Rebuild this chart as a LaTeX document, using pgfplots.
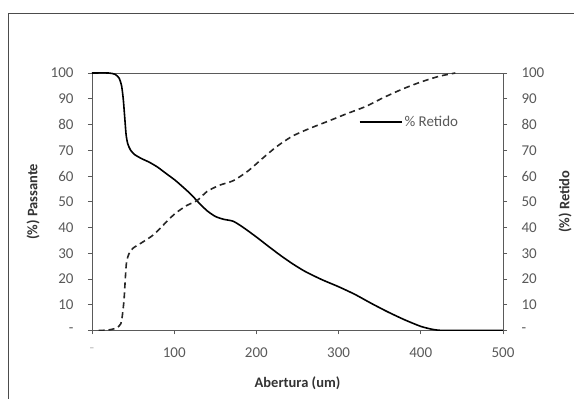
\documentclass[border=0pt]{standalone}
\usepackage{pgfplots}
\pgfplotsset{compat=1.18}
\usepackage{fontspec}
\setmainfont{Carlito}
\definecolor{txt}{HTML}{595959}
\definecolor{axc}{HTML}{5A5A5A}
\begin{document}
\begin{tikzpicture}[x=1pt,y=1pt]
\useasboundingbox (-92,-68.5) rectangle (482,330.5);
\draw[black!70, line width=0.8pt] (-84,-68.5) -- (-84,317.2) -- (482,317.2);
\begin{axis}[at={(0,0)}, anchor=south west, scale only axis,
  width=411pt, height=257.5pt,
  xmin=0, xmax=500, ymin=0, ymax=100,
  xtick={0,100,...,500}, xticklabels={\textcolor{black!25}{-},100,200,300,400,500},
  ytick={0,10,...,100}, yticklabels={-,10,20,30,40,50,60,70,80,90,100},
  xtick pos=bottom, ytick pos=left,
  tick align=outside, major tick length=4pt,
  tick style={axc, line width=0.7pt},
  axis line style={axc, line width=0.8pt},
  ticklabel style={font=\fontsize{15}{17}\selectfont, text=txt},
  yticklabel style={xshift=-11pt},
  xticklabel style={yshift=-10pt},
  /pgf/number format/assume math mode=true,
  label style={font=\fontsize{14.5}{16}\selectfont\bfseries, text=black!80},
  xlabel={Abertura (um)}, ylabel={(\%) Passante},
  xlabel style={at={(axis description cs:0.5,-0.204)}, anchor=center},
  ylabel style={at={(axis description cs:-0.1436,0.5)}, anchor=center},
  legend style={at={(axis description cs:0.649,0.81)}, anchor=west, draw=none, fill=none,
    inner sep=0pt, font=\fontsize{15}{17}\selectfont, text=txt},
  legend image code/.code={\draw[#1] (0pt,0pt) -- (42pt,0pt);},
]
\addplot[black, line width=1.6pt, smooth, tension=0.4] coordinates {
(0,100) (20,100) (28,99.5) (33,98) (36,95) (38,90) (40,82) (41.5,76) (43.5,72.5) (47,70) (52,68.3) (60,66.8) (70,65.3) (80,63.4) (90,61) (101,58.4) (110,55.9) (120,53) (130,49.6) (140,46.5) (150,44.3) (160,43.2) (172,42.4) (185,39.8) (200,36.3) (215,32.6) (230,29) (245,25.7) (260,22.8) (280,19.7) (300,17) (320,14) (340,10.5) (360,7.2) (380,4.2) (400,1.6) (415,0.4) (430,0) (500,0)
};
\addlegendentry{\% Retido}
\addplot[black!85, line width=1.6pt, dash pattern=on 6pt off 4pt, smooth, tension=0.4, forget plot] coordinates {
(8,0) (20,0.2) (30,1) (35,2.6) (37,6) (39,12) (40.5,20) (42,26.5) (45,29.8) (50,32) (60,34) (75,37.2) (90,42) (101,45.4) (115,48.5) (128,50.5) (140,54) (155,56.4) (172,58.2) (190,62) (208,67) (225,71.5) (244,75.5) (265,78.5) (289,81.5) (310,84.2) (333,87) (355,90.5) (378,93.8) (400,96.5) (422,98.7) (442,100)
};
\end{axis}
\begin{axis}[at={(0,0)}, anchor=south west, scale only axis,
  width=411pt, height=257.5pt,
  xmin=0, xmax=500, ymin=0, ymax=100,
  axis x line=none, axis y line*=right,
  ytick={0,10,...,100}, yticklabels={-,10,20,30,40,50,60,70,80,90,100},
  tick align=outside, major tick length=4pt,
  tick style={axc, line width=0.7pt},
  axis line style={axc, line width=0.8pt},
  ticklabel style={font=\fontsize{15}{17}\selectfont, text=txt},
  yticklabel style={xshift=11pt},
  /pgf/number format/assume math mode=true,
  label style={font=\fontsize{14.5}{16}\selectfont\bfseries, text=black!80},
  ylabel={(\%) Retido},
  ylabel style={at={(axis description cs:1.151,0.5)}, anchor=center},
]
\end{axis}
\end{tikzpicture}
\end{document}
